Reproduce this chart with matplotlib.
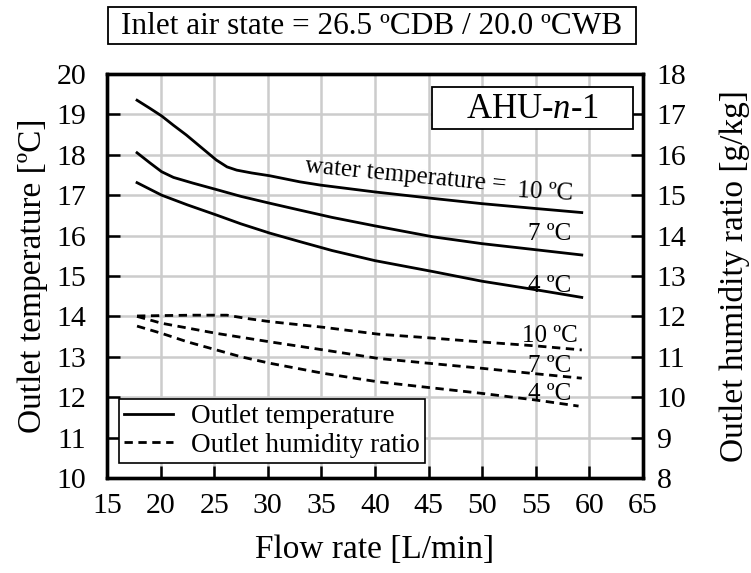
import numpy as np
import matplotlib
matplotlib.use('Agg')
import matplotlib.pyplot as plt
from matplotlib.lines import Line2D
from matplotlib.patches import Rectangle

plt.rcParams['font.family'] = ['Liberation Serif', 'DejaVu Serif']
plt.rcParams['mathtext.fontset'] = 'custom'
plt.rcParams['mathtext.it'] = 'Liberation Serif:italic'
plt.rcParams['mathtext.rm'] = 'Liberation Serif'

# outlet temperature [C] vs flow rate [L/min]
flow_t10 = [17.8, 19.0, 20.1, 21.2, 22.4, 23.8, 25.2, 26.2, 27.1, 28.5, 30.2, 33.0, 34.9, 40.0, 45.4, 50.0, 55.0, 59.3]
temp_t10 = [19.35, 19.15, 18.96, 18.73, 18.49, 18.18, 17.87, 17.70, 17.62, 17.55, 17.48, 17.33, 17.25, 17.08, 16.92, 16.79, 16.67, 16.57]
flow_t7 = [17.8, 19.0, 20.1, 21.2, 23.0, 25.2, 27.5, 30.2, 33.0, 36.0, 40.0, 45.4, 50.0, 55.0, 59.3]
temp_t7 = [18.05, 17.80, 17.58, 17.44, 17.30, 17.14, 16.97, 16.80, 16.63, 16.45, 16.24, 15.97, 15.80, 15.65, 15.52]
flow_t4 = [17.8, 20.1, 22.5, 25.2, 27.5, 30.2, 33.0, 36.0, 40.0, 45.4, 50.0, 55.0, 59.3]
temp_t4 = [17.31, 17.00, 16.76, 16.51, 16.29, 16.06, 15.85, 15.63, 15.38, 15.11, 14.87, 14.66, 14.47]

# outlet humidity ratio [g/kg]
flow_h10 = [17.8, 20.1, 23.0, 26.2, 28.0, 30.2, 35.2, 40.3, 45.0, 49.8, 55.0, 59.3]
hum_h10 = [12.01, 12.02, 12.03, 12.03, 11.95, 11.87, 11.73, 11.56, 11.47, 11.37, 11.27, 11.17]
flow_h7 = [17.8, 20.1, 25.2, 30.2, 35.2, 40.3, 45.0, 49.8, 55.0, 59.3]
hum_h7 = [12.00, 11.83, 11.58, 11.37, 11.17, 10.96, 10.84, 10.72, 10.58, 10.47]
flow_h4 = [17.8, 20.1, 22.5, 25.2, 27.5, 30.2, 35.2, 40.3, 45.0, 49.8, 55.0, 59.0]
hum_h4 = [11.76, 11.58, 11.37, 11.17, 11.00, 10.84, 10.59, 10.38, 10.24, 10.10, 9.93, 9.78]

x_ticks = np.arange(15, 66, 5)
t_ticks = np.arange(10, 21, 1)
h_ticks = np.arange(8, 19, 1)

fig = plt.figure(figsize=(7.51, 5.73), dpi=100)
ax = fig.add_axes([0.1425, 0.1658, 0.7135, 0.7051])
ax2 = ax.twinx()

ax.plot(flow_t10, temp_t10, color='black', lw=2)
ax.plot(flow_t7, temp_t7, color='black', lw=2)
ax.plot(flow_t4, temp_t4, color='black', lw=2)
ax2.plot(flow_h10, hum_h10, color='black', lw=2, ls=(0, (3, 2)))
ax2.plot(flow_h7, hum_h7, color='black', lw=2, ls=(0, (3, 2)))
ax2.plot(flow_h4, hum_h4, color='black', lw=2, ls=(0, (3, 2)))

ax.set_xlim(15, 65)
ax.set_ylim(10, 20)
ax2.set_ylim(8, 18)
ax.set_xticks(x_ticks)
ax.set_yticks(t_ticks)
ax2.set_yticks(h_ticks)
ax.grid(True, color='#cccccc', lw=1.8)
ax.set_axisbelow(True)

for a in (ax, ax2):
    for s in a.spines.values():
        s.set_linewidth(2.4)
ax.tick_params(direction='in', length=9, width=1.8, labelsize=21.5)
ax.tick_params(axis='x', pad=11)
ax.tick_params(axis='y', pad=15)
ax2.tick_params(direction='in', length=9, width=1.8, labelsize=21.5, pad=10)

ax.set_xlabel('Flow rate [L/min]', fontsize=24, labelpad=11)
ax.set_ylabel('Outlet temperature [ºC]', fontsize=24, labelpad=6)
ax2.set_ylabel('Outlet humidity ratio [g/kg]', fontsize=24, labelpad=23)

# curve labels
ax.text(33.47, 17.57, 'water temperature =', fontsize=18, rotation=-5.5,
        ha='left', va='baseline', rotation_mode='anchor')
ax.text(53.3, 16.96, '10 ºC', fontsize=18, rotation=-3,
        ha='left', va='baseline', rotation_mode='anchor')
ax.text(58.35, 15.89, '7 ºC', fontsize=18, ha='right', va='baseline')
ax.text(58.35, 14.61, '4 ºC', fontsize=18, ha='right', va='baseline')
ax2.text(58.97, 11.37, '10 ºC', fontsize=18, ha='right', va='baseline')
ax2.text(58.35, 10.63, '7 ºC', fontsize=18, ha='right', va='baseline')
ax2.text(58.35, 9.93, '4 ºC', fontsize=18, ha='right', va='baseline')

# AHU box
ax2.add_patch(Rectangle((0.606, 0.864), 0.375, 0.104, transform=ax2.transAxes,
                        fc='white', ec='black', lw=1.3, zorder=5))
ax2.text(0.7935, 0.913, 'AHU-$n$-1', transform=ax2.transAxes, fontsize=25,
         ha='center', va='center', zorder=6)

# inlet state box
fig.patches.append(Rectangle((0.1438, 0.9232), 0.7031, 0.0646,
                             transform=fig.transFigure, fc='white', ec='black',
                             lw=1.3))
fig.text(0.4953, 0.954, 'Inlet air state = 26.5 ºCDB / 20.0 ºCWB', fontsize=22.5,
         ha='center', va='center')

handles = [Line2D([], [], color='black', lw=2),
           Line2D([], [], color='black', lw=2, ls=(0, (3, 2)))]
leg = ax2.legend(handles, ['Outlet temperature', 'Outlet humidity ratio'],
                 loc='lower left', bbox_to_anchor=(0.0224, 0.037), borderaxespad=0,
                 fontsize=19.5, fancybox=False, edgecolor='black', framealpha=1,
                 handlelength=1.8, handletextpad=0.65, borderpad=0.2,
                 labelspacing=0.12)
leg.get_frame().set_linewidth(1.2)

fig.savefig('out.png', dpi=100)
